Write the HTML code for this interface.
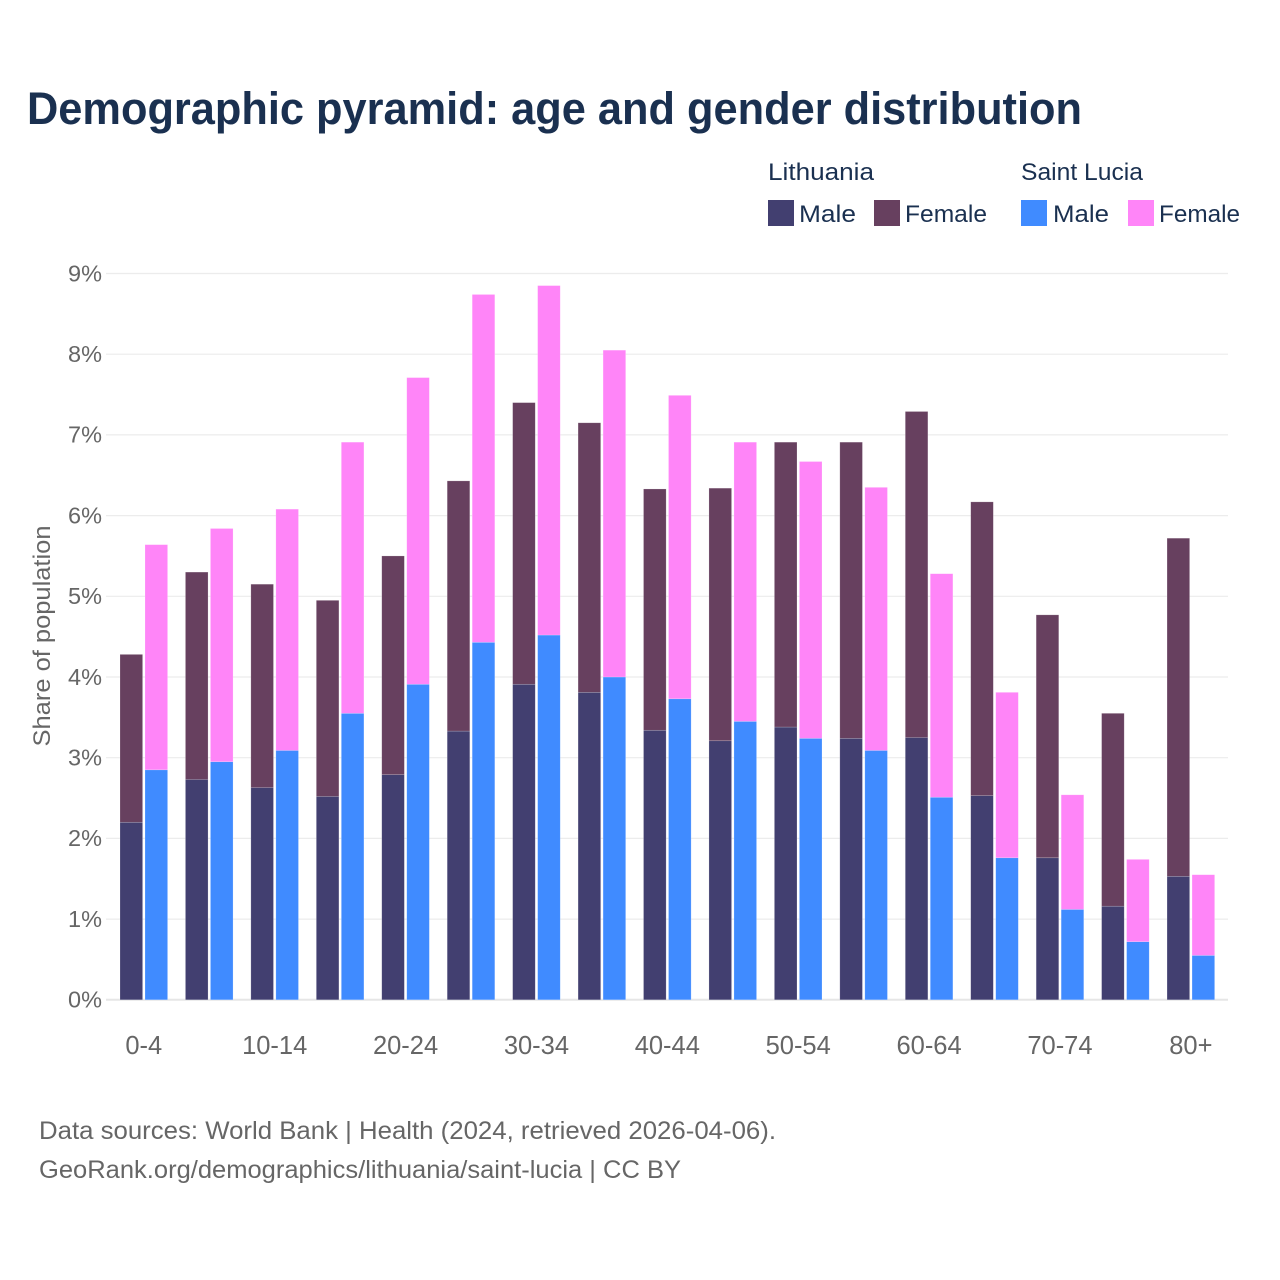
<!DOCTYPE html>
<html lang="en">
<head>
<meta charset="utf-8">
<title>Demographic pyramid</title>
<style>
html,body{margin:0;padding:0;background:#fff;width:1280px;height:1280px;overflow:hidden}
svg{display:block;font-family:"Liberation Sans",sans-serif}
</style>
</head>
<body>
<svg id="chart" xmlns="http://www.w3.org/2000/svg" width="1280" height="1280" viewBox="0 0 1280 1280">
  <rect width="1280" height="1280" fill="#fff"/>
  <text x="27" y="124" font-size="45" font-weight="700" fill="#1a3050" textLength="1055" lengthAdjust="spacingAndGlyphs">Demographic pyramid: age and gender distribution</text>

  <g font-size="24" fill="#1a3050">
    <text x="768" y="180" textLength="106" lengthAdjust="spacingAndGlyphs">Lithuania</text>
    <text x="1021" y="180" textLength="122" lengthAdjust="spacingAndGlyphs">Saint Lucia</text>
    <rect x="768" y="200" width="26" height="26" fill="#423f70"/>
    <text x="799" y="222" textLength="57" lengthAdjust="spacingAndGlyphs">Male</text>
    <rect x="874" y="200" width="26" height="26" fill="#67405f"/>
    <text x="905" y="222" textLength="82" lengthAdjust="spacingAndGlyphs">Female</text>
    <rect x="1021" y="200" width="26" height="26" fill="#408bff"/>
    <text x="1053" y="222" textLength="56" lengthAdjust="spacingAndGlyphs">Male</text>
    <rect x="1128" y="200" width="26" height="26" fill="#ff85f8"/>
    <text x="1159" y="222" textLength="81" lengthAdjust="spacingAndGlyphs">Female</text>
  </g>

  <g id="grid"></g>
  <g id="yticks"></g>
  <g id="bars"></g>
  <g id="xticks"></g>

  <text transform="translate(50,636) rotate(-90)" text-anchor="middle" font-size="24" fill="#666" textLength="221" lengthAdjust="spacingAndGlyphs">Share of population</text>

  <text x="39" y="1139" font-size="25" fill="#666" textLength="737" lengthAdjust="spacingAndGlyphs">Data sources: World Bank | Health (2024, retrieved 2026-04-06).</text>
  <text x="39" y="1178" font-size="25" fill="#666" textLength="642" lengthAdjust="spacingAndGlyphs">GeoRank.org/demographics/lithuania/saint-lucia | CC BY</text>
</svg>

<script>
const categories = ['0-4','5-9','10-14','15-19','20-24','25-29','30-34','35-39','40-44','45-49','50-54','55-59','60-64','65-69','70-74','75-79','80+'];
const xTickLabels = ['0-4','10-14','20-24','30-34','40-44','50-54','60-64','70-74','80+'];
const yTickValues = [0,1,2,3,4,5,6,7,8,9];
const yTickLabels = ['0%','1%','2%','3%','4%','5%','6%','7%','8%','9%'];
const lithuaniaMale = [2.20,2.73,2.63,2.52,2.79,3.33,3.91,3.81,3.34,3.21,3.38,3.24,3.25,2.53,1.76,1.16,1.53];
const lithuaniaFemale = [2.08,2.57,2.52,2.43,2.71,3.10,3.49,3.34,2.99,3.13,3.53,3.67,4.04,3.64,3.01,2.39,4.19];
const saintLuciaMale = [2.85,2.95,3.09,3.55,3.91,4.43,4.52,4.00,3.73,3.45,3.24,3.09,2.51,1.76,1.12,0.72,0.55];
const saintLuciaFemale = [2.79,2.89,2.99,3.36,3.80,4.31,4.33,4.05,3.76,3.46,3.43,3.26,2.77,2.05,1.42,1.02,1.00];

const NS = 'http://www.w3.org/2000/svg';
function yScale(v){ return 999.8 - v * 80.7; }
function groupX(i){ return 120 + i * 65.44; }
const barWidth = 22.6;
const barOffset = 25;

const grid = document.getElementById('grid');
const yticks = document.getElementById('yticks');
yTickValues.forEach(function(v, i){
  const line = document.createElementNS(NS, 'line');
  
  
  line.setAttribute('x1', 106);
  line.setAttribute('x2', 1228);
  line.setAttribute('y1', yScale(v));
  line.setAttribute('y2', yScale(v));
  line.setAttribute('stroke', v === 0 ? '#e6e6e6' : '#ececec');
  line.setAttribute('stroke-width', v === 0 ? 2 : 1.2);
  grid.appendChild(line);
  const t = document.createElementNS(NS, 'text');
  
  
  t.setAttribute('x', 102);
  t.setAttribute('y', yScale(v) + 7.8);
  t.setAttribute('text-anchor', 'end');
  t.setAttribute('font-size', 23.5);
  t.setAttribute('fill', '#666');
  t.textContent = yTickLabels[i];
  yticks.appendChild(t);
});

const barsG = document.getElementById('bars');
function addBar(x, base, value, color, name){
  const r = document.createElementNS(NS, 'rect');
  
  
  r.setAttribute('x', x);
  r.setAttribute('y', yScale(base + value));
  r.setAttribute('width', barWidth);
  r.setAttribute('height', yScale(base) - yScale(base + value));
  r.setAttribute('fill', color);
  r.setAttribute('stroke', '#fff');
  r.setAttribute('stroke-opacity', '0.3');
  r.setAttribute('stroke-width', '0.6');
  barsG.appendChild(r);
}
categories.forEach(function(c, i){
  const x0 = groupX(i);
  addBar(x0, 0, lithuaniaMale[i], '#423f70', 'bar-lithuania-male-' + c);
  addBar(x0, lithuaniaMale[i], lithuaniaFemale[i], '#67405f', 'bar-lithuania-female-' + c);
  addBar(x0 + barOffset, 0, saintLuciaMale[i], '#408bff', 'bar-saint-lucia-male-' + c);
  addBar(x0 + barOffset, saintLuciaMale[i], saintLuciaFemale[i], '#ff85f8', 'bar-saint-lucia-female-' + c);
});

const xticks = document.getElementById('xticks');
xTickLabels.forEach(function(label){
  const i = categories.indexOf(label);
  const t = document.createElementNS(NS, 'text');
  
  
  t.setAttribute('x', groupX(i) + (barOffset + barWidth) / 2);
  t.setAttribute('y', 1054);
  t.setAttribute('text-anchor', 'middle');
  t.setAttribute('font-size', 25.5);
  t.setAttribute('fill', '#666');
  t.textContent = label;
  xticks.appendChild(t);
});
</script>
</body>
</html>
